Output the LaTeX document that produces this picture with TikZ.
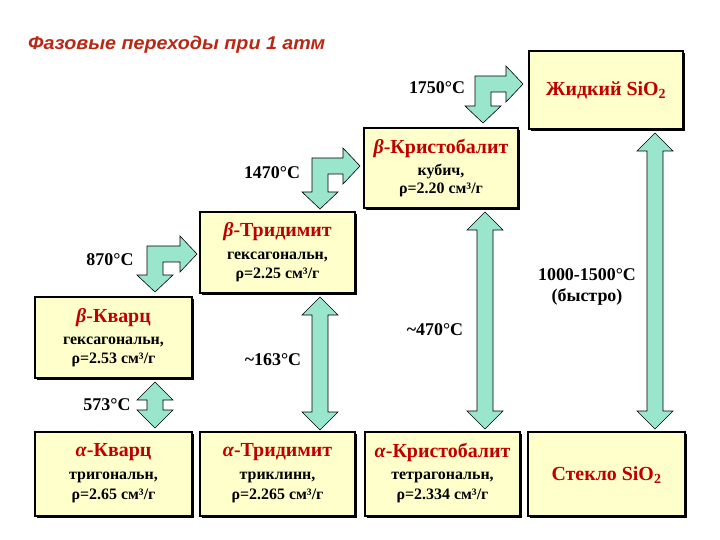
\documentclass[tikz,border=0pt]{standalone}
\usepackage{fontspec}
\setmainfont{Liberation Serif}
\newfontfamily\titlefont{Liberation Sans}
\usetikzlibrary{shadows}
\definecolor{boxfill}{RGB}{255,255,204}
\definecolor{arrfill}{RGB}{153,230,204}
\definecolor{headred}{RGB}{192,0,0}
\definecolor{titlered}{RGB}{185,40,20}
\newcommand\dblv[3]{%
 \draw[blk] (#1,#2) -- ({#1+18},{#2+18}) -- ({#1+8},{#2+18}) -- ({#1+8},{#3-18}) -- ({#1+18},{#3-18}) -- (#1,#3) -- ({#1-18},{#3-18}) -- ({#1-8},{#3-18}) -- ({#1-8},{#2+18}) -- ({#1-18},{#2+18}) -- cycle;}
\newcommand\bentarr[4]{%
 \draw[blk] (#1,#2) -- ({#3-17},#2) -- ({#3-17},{#2-10}) -- (#3,{#2+8}) -- ({#3-17},{#2+26}) -- ({#3-17},{#2+16}) -- ({#1+16},{#2+16}) -- ({#1+16},{#4-17}) -- ({#1+26},{#4-17}) -- ({#1+8},#4) -- ({#1-10},{#4-17}) -- (#1,{#4-17}) -- cycle;}
\begin{document}
\begin{tikzpicture}[x=1bp,y=-1bp,
  box/.style={draw=black,line width=2bp,fill=boxfill,inner sep=0pt,
    drop shadow={shadow xshift=1.8bp,shadow yshift=-1.8bp,fill=black,opacity=1}},
  head/.style={font=\fontsize{20}{23}\selectfont\bfseries,text=headred,inner sep=0pt},
  sub/.style={font=\fontsize{16}{19}\selectfont\bfseries,inner sep=0pt},
  temp/.style={font=\fontsize{18}{21}\selectfont\bfseries,inner sep=0pt},
  blk/.style={draw=black,line width=0.6bp,fill=arrfill,line join=miter}]
\useasboundingbox (0,0) rectangle (720,540);

% title
\node[anchor=west,inner sep=0pt,font=\titlefont\fontsize{18.5}{21}\selectfont\bfseries\itshape,text=titlered] (title) at (28,45) {\scalebox{1.07}[1]{Фазовые переходы при 1 атм}};

% block arrows
\bentarr{475}{76}{523}{123}
\bentarr{312}{158}{360}{209}
\bentarr{147}{246}{197}{292}
\dblv{155}{382}{428}
\dblv{320}{297}{430}
\dblv{485}{212}{429}
\dblv{655}{133}{429}

% boxes
\node[box,minimum width=154bp,minimum height=78bp] (liq) at (606,90) {};
\node[box,minimum width=154bp,minimum height=80bp] (bcr) at (441,168) {};
\node[box,minimum width=155bp,minimum height=81bp] (btr) at (277.5,252.5) {};
\node[box,minimum width=157bp,minimum height=81bp] (bq) at (113.5,337.5) {};
\node[box,minimum width=157bp,minimum height=84bp] (aq) at (113.5,474) {};
\node[box,minimum width=155bp,minimum height=84bp] (atr) at (277.5,474) {};
\node[box,minimum width=155bp,minimum height=84bp] (acr) at (442.5,474) {};
\node[box,minimum width=157bp,minimum height=84bp] (gl) at (606.5,474) {};

% box texts
\node[head] (liq-t) at (606,90) {Жидкий SiO\textsubscript{2}};
\node[head] (bcr-h) at (441,148) {\textit{β}-Кристобалит};
\node[sub] (bcr-1) at (441,172) {кубич,};
\node[sub] (bcr-2) at (441,190) {ρ=2.20 см³/г};
\node[head] (btr-h) at (277.5,232) {\textit{β}-Тридимит};
\node[sub] (btr-1) at (277.5,257) {гексагональн,};
\node[sub] (btr-2) at (277.5,275) {ρ=2.25 см³/г};
\node[head] (bq-h) at (113.5,318) {\textit{β}-Кварц};
\node[sub] (bq-1) at (113.5,342) {гексагональн,};
\node[sub] (bq-2) at (113.5,360) {ρ=2.53 см³/г};
\node[head] (aq-h) at (113.5,452) {\textit{α}-Кварц};
\node[sub] (aq-1) at (113.5,477) {тригональн,};
\node[sub] (aq-2) at (113.5,496) {ρ=2.65 см³/г};
\node[head] (atr-h) at (277.5,452) {\textit{α}-Тридимит};
\node[sub] (atr-1) at (277.5,477) {триклинн,};
\node[sub] (atr-2) at (277.5,496) {ρ=2.265 см³/г};
\node[head] (acr-h) at (442.5,452) {\textit{α}-Кристобалит};
\node[sub] (acr-1) at (442.5,477) {тетрагональн,};
\node[sub] (acr-2) at (442.5,496) {ρ=2.334 см³/г};
\node[head] (gl-t) at (606.5,475) {Стекло SiO\textsubscript{2}};

% temperatures
\node[temp] (t1750) at (437,88) {1750°C};
\node[temp] (t1470) at (272,173) {1470°C};
\node[temp] (t870) at (110,260) {870°C};
\node[temp] (t573) at (107,405) {573°C};
\node[temp] (t163) at (273,360) {\textasciitilde163°C};
\node[temp] (t470) at (435,330) {\textasciitilde470°C};
\node[temp] (t1000) at (587,275) {1000-1500°C};
\node[temp] (tfast) at (587,297) {(быстро)};
\end{tikzpicture}
\end{document}
